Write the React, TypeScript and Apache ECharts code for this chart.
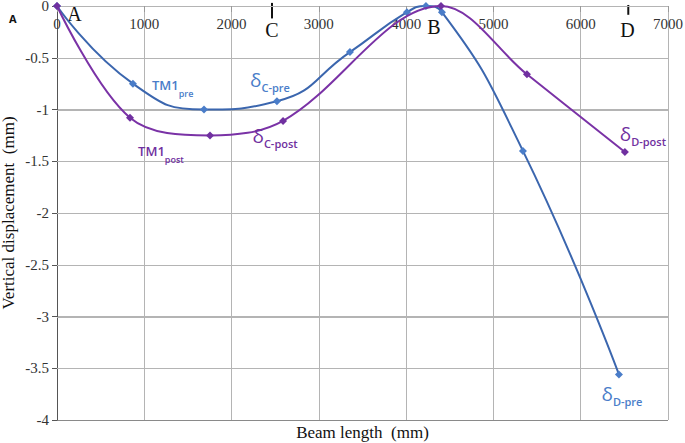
import React, { useEffect, useRef } from "react";
import * as echarts from "echarts";

// Beam positions (mm) and vertical displacements (mm)
const preX = [0, 870, 1684, 2520, 3356, 4009, 4227, 4410, 5338, 6438];
const preY = [0, -0.75, -1.0, -0.92, -0.445, -0.06, 0, -0.06, -1.4, -3.56];
const postX = [0, 836, 1753, 2590, 4399, 5384, 6506];
const postY = [0, -1.08, -1.25, -1.11, 0, -0.66, -1.41];

const xTicks = { min: 0, max: 7000, interval: 1000 };
const yTicks = { min: -4, max: 0, interval: 0.5 };

// Support letters on the beam
const letterNames = ["A", "C", "B", "D"];
const letterX = [200, 2463, 4318, 6535];
const letterY = [-0.075, -0.23, -0.2, -0.23];
// Short marks for C and D
const markX = [2463, 6545];
const markTop = [0.03, 0.01];
const markBottom = [-0.12, -0.085];

const BLUE_LINE = "#3B66AE";
const BLUE_MARK = "#4A7DC9";
const PURPLE_LINE = "#7A32A6";
const PURPLE_MARK = "#7030A0";
const GRID = "#b4b4b4";

const sansFont = "'Open Sans', 'Noto Sans', sans-serif";
const serifFont = "'Liberation Serif', 'DejaVu Serif', serif";

function richFor(color: string, mainSize: number, subSize: number) {
  return {
    m: { fontFamily: sansFont, fontWeight: 600, fontSize: mainSize, color, lineHeight: 20, verticalAlign: "middle" },
    s: { fontFamily: sansFont, fontWeight: 600, fontSize: subSize, color, lineHeight: 20, verticalAlign: "bottom", padding: [0, 0, -3, 0] },
    d: { fontFamily: sansFont, fontSize: 19, color, lineHeight: 20, verticalAlign: "middle" },
  };
}

export default function App() {
  const ref = useRef<HTMLDivElement>(null);
  useEffect(() => {
    if (!ref.current) return;
    const chart = echarts.init(ref.current, null, { renderer: "svg" });

    const preLabels: Record<number, any> = {
      1: { show: true, position: "right", offset: [10, 1], formatter: "{m|TM1}{s|pre}", rich: richFor(BLUE_MARK, 13, 9) },
      3: { show: true, position: "top", offset: [-7, -2], formatter: "{d|δ}{s|C-pre}", rich: richFor(BLUE_MARK, 13, 11) },
      9: { show: true, position: "bottom", offset: [3, 1], formatter: "{d|δ}{s|D-pre}", rich: richFor(BLUE_MARK, 13, 11) },
    };
    const postLabels: Record<number, any> = {
      1: { show: true, position: "bottom", offset: [31, 14], formatter: "{m|TM1}{s|post}", rich: richFor(PURPLE_MARK, 13, 9) },
      3: { show: true, position: "bottom", offset: [-8, -4], formatter: "{d|δ}{s|C-post}", rich: richFor(PURPLE_MARK, 13, 11) },
      6: { show: true, position: "top", offset: [18, 1], formatter: "{d|δ}{s|D-post}", rich: richFor(PURPLE_MARK, 13, 11) },
    };

    const preData = preX.map((x, i) => (preLabels[i] ? { value: [x, preY[i]], label: preLabels[i] } : [x, preY[i]]));
    const postData = postX.map((x, i) => (postLabels[i] ? { value: [x, postY[i]], label: postLabels[i] } : [x, postY[i]]));

    chart.setOption({
      animation: false,
      grid: { left: 57, right: 17, top: 6, bottom: 23, containLabel: false, outerBoundsMode: "none" },
      xAxis: {
        type: "value",
        min: xTicks.min,
        max: xTicks.max,
        interval: xTicks.interval,
        position: "top",
        axisLine: { show: true, onZero: false, lineStyle: { color: GRID, width: 1 } },
        axisTick: { show: true, inside: true, length: 6, lineStyle: { color: "#9a9a9a" } },
        axisLabel: { inside: true, fontFamily: serifFont, fontSize: 15, color: "#333", margin: 10, formatter: (v: number) => String(v) },
        splitLine: { show: true, lineStyle: { color: GRID, width: 1, type: "solid" } },
      },
      yAxis: {
        type: "value",
        min: yTicks.min,
        max: yTicks.max,
        interval: yTicks.interval,
        axisLine: { show: true, onZero: false, lineStyle: { color: "#555", width: 1 } },
        axisTick: { show: true, length: 5, lineStyle: { color: "#555" } },
        axisLabel: { fontFamily: serifFont, fontSize: 15, color: "#333", margin: 8 },
        splitLine: { show: true, lineStyle: { color: GRID, width: 1, type: "solid" } },
        name: "Vertical displacement  (mm)",
        nameLocation: "middle",
        nameMoveOverlap: false,
        nameGap: 40,
        nameTextStyle: { fontFamily: serifFont, fontSize: 17, color: "#111" },
      },
      series: [
        {
          type: "line",
          name: "pre",
          smooth: 0.5,
          data: preData,
          symbol: "diamond",
          symbolSize: 8,
          itemStyle: { color: BLUE_MARK },
          lineStyle: { color: BLUE_LINE, width: 2 },
          clip: false,
          z: 3,
        },
        {
          type: "line",
          name: "post",
          smooth: 0.35,
          data: postData,
          symbol: "diamond",
          symbolSize: 8,
          itemStyle: { color: PURPLE_MARK },
          lineStyle: { color: PURPLE_LINE, width: 2 },
          clip: false,
          z: 4,
        },
      ],
    });

    const graphics: any[] = [];
    // horizontal grid bands (1px rects) at the y ticks
    for (let v = yTicks.min + yTicks.interval; v < yTicks.max - 1e-9; v += yTicks.interval) {
      const a = chart.convertToPixel({ gridIndex: 0 }, [xTicks.min, v]) as number[];
      const b = chart.convertToPixel({ gridIndex: 0 }, [xTicks.max, v]) as number[];
      graphics.push({
        type: "rect",
        silent: true,
        z: 1,
        shape: { x: a[0], y: Math.round(a[1]), width: b[0] - a[0], height: 1 },
        style: { fill: GRID },
      });
    }
    letterNames.forEach((name, i) => {
      const p = chart.convertToPixel({ gridIndex: 0 }, [letterX[i], letterY[i]]) as number[];
      graphics.push({
        type: "text",
        x: p[0],
        y: p[1],
        style: { text: name, fontFamily: serifFont, fontSize: 20, fill: "#111", align: "center", verticalAlign: "middle" },
      });
    });
    markX.forEach((x, i) => {
      const a = chart.convertToPixel({ gridIndex: 0 }, [x, markTop[i]]) as number[];
      const b = chart.convertToPixel({ gridIndex: 0 }, [x, markBottom[i]]) as number[];
      graphics.push({
        type: "line",
        shape: { x1: a[0], y1: a[1], x2: b[0], y2: b[1] },
        style: { stroke: "#111", lineWidth: 2 },
      });
    });
    // bottom frame line and x-axis title
    const bl = chart.convertToPixel({ gridIndex: 0 }, [xTicks.min, yTicks.min]) as number[];
    const br = chart.convertToPixel({ gridIndex: 0 }, [xTicks.max, yTicks.min]) as number[];
    graphics.push({
      type: "rect",
      shape: { x: bl[0], y: Math.round(bl[1]), width: br[0] - bl[0], height: 1 },
      style: { fill: "#8a8a8a" },
    });
    graphics.push({
      type: "text",
      x: (bl[0] + br[0]) / 2,
      y: bl[1] + 4,
      style: { text: "Beam length  (mm)", fontFamily: serifFont, fontSize: 17, fill: "#111", align: "center", verticalAlign: "top" },
    });
    graphics.push({
      type: "text",
      left: 9,
      top: 13,
      style: { text: "A", fontFamily: sansFont, fontWeight: "bold", fontSize: 11, fill: "#111" },
    });
    chart.setOption({ graphic: graphics });

    return () => chart.dispose();
  }, []);
  return <div ref={ref} style={{ position: "absolute", left: 0, top: 0, width: 685, height: 443 }} />;
}
